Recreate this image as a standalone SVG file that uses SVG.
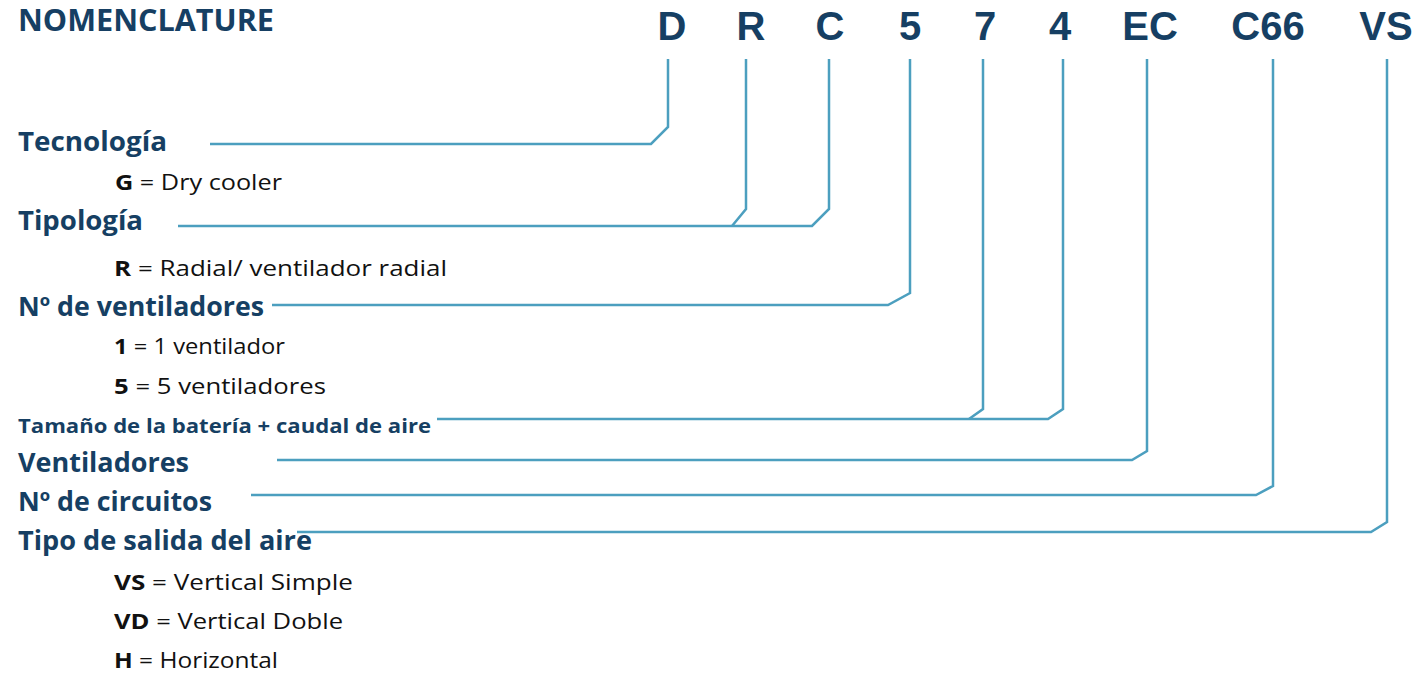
<svg xmlns="http://www.w3.org/2000/svg" width="1416" height="675" viewBox="0 0 1416 675">
<style>
.h{font-family:"Open Sans","Noto Sans",sans-serif;font-weight:700;fill:#163f63;font-size:30px}
.code{font-family:"Liberation Sans",Arial,sans-serif;font-weight:700;fill:#163f63;font-size:40px;text-anchor:middle}
.lbl{font-family:"Open Sans","Noto Sans",sans-serif;font-weight:700;fill:#163f63;font-size:26px}
.lbl.small{font-size:20px}
.sub{font-family:"Open Sans","Noto Sans",sans-serif;font-weight:400;fill:#111;font-size:21px}
.sub tspan.b{font-weight:700}
.c{fill:none;stroke:#4c9fbf;stroke-width:2.5;stroke-linejoin:miter}
</style>
<rect width="1416" height="675" fill="#fff"/>
<g id="title"><text class="h" x="18" y="31" textLength="256" lengthAdjust="spacingAndGlyphs">NOMENCLATURE</text></g>
<g id="code">
<text class="code" x="672" y="40">D</text>
<text class="code" x="751" y="40">R</text>
<text class="code" x="830" y="40">C</text>
<text class="code" x="910" y="40">5</text>
<text class="code" x="985" y="40">7</text>
<text class="code" x="1060" y="40">4</text>
<text class="code" x="1150" y="40">EC</text>
<text class="code" x="1268" y="40">C66</text>
<text class="code" x="1386" y="40">VS</text>
</g>
<g id="connectors">
<polyline class="c" points="210,144 651,144 668,127 668,59"/>
<polyline class="c" points="178,226 812,226 829,209 829,59"/>
<polyline class="c" points="732,226 746,209 746,59"/>
<polyline class="c" points="272,305 888,305 910,293 910,59"/>
<polyline class="c" points="437,419 1048,419 1063,409 1063,59"/>
<polyline class="c" points="969,419 983,409 983,59"/>
<polyline class="c" points="277,460 1132,460 1147,451 1147,59"/>
<polyline class="c" points="251,495 1256,495 1273,486 1273,59"/>
<polyline class="c" points="297,532 1371,532 1387,522 1387,59"/>
</g>
<g id="tecnologia">
<text class="lbl" x="18" y="151" textLength="149" lengthAdjust="spacingAndGlyphs">Tecnología</text>
<text class="sub" x="115" y="190" textLength="167" lengthAdjust="spacingAndGlyphs"><tspan class="b">G</tspan> = Dry cooler</text>
</g>
<g id="tipologia">
<text class="lbl" x="18" y="230" textLength="125" lengthAdjust="spacingAndGlyphs">Tipología</text>
<text class="sub" x="114" y="276" textLength="333" lengthAdjust="spacingAndGlyphs"><tspan class="b">R</tspan> = Radial/ ventilador radial</text>
</g>
<g id="ventiladores-n">
<text class="lbl" x="18" y="316" textLength="246" lengthAdjust="spacingAndGlyphs">Nº de ventiladores</text>
<text class="sub" x="114" y="354" textLength="171" lengthAdjust="spacingAndGlyphs"><tspan class="b">1</tspan> = 1 ventilador</text>
<text class="sub" x="114" y="394" textLength="212" lengthAdjust="spacingAndGlyphs"><tspan class="b">5</tspan> = 5 ventiladores</text>
</g>
<g id="tamano">
<text class="lbl small" x="18" y="433" textLength="413" lengthAdjust="spacingAndGlyphs">Tamaño de la batería + caudal de aire</text>
</g>
<g id="ventiladores">
<text class="lbl" x="18" y="472" textLength="171" lengthAdjust="spacingAndGlyphs">Ventiladores</text>
</g>
<g id="circuitos">
<text class="lbl" x="18" y="511" textLength="194" lengthAdjust="spacingAndGlyphs">Nº de circuitos</text>
</g>
<g id="salida">
<text class="lbl" x="18" y="550" textLength="294" lengthAdjust="spacingAndGlyphs">Tipo de salida del aire</text>
<text class="sub" x="114" y="590" textLength="239" lengthAdjust="spacingAndGlyphs"><tspan class="b">VS</tspan> = Vertical Simple</text>
<text class="sub" x="114" y="629" textLength="229" lengthAdjust="spacingAndGlyphs"><tspan class="b">VD</tspan> = Vertical Doble</text>
<text class="sub" x="114" y="668" textLength="164" lengthAdjust="spacingAndGlyphs"><tspan class="b">H</tspan> = Horizontal</text>
</g>
</svg>
